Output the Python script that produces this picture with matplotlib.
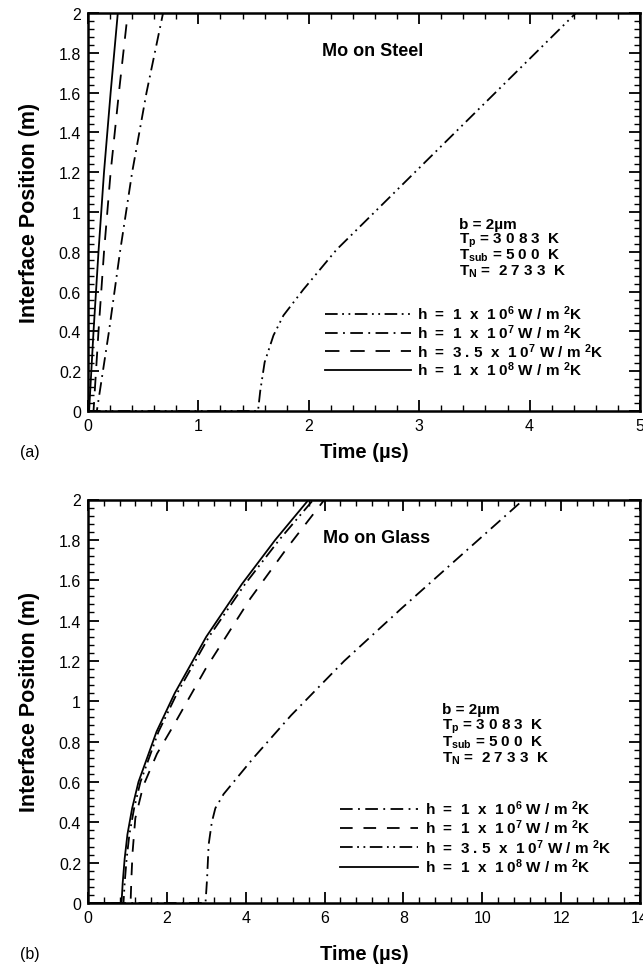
import numpy as np
import matplotlib.pyplot as plt
from matplotlib.ticker import MultipleLocator

plt.rcParams['font.family'] = 'Liberation Sans'
plt.rcParams['mathtext.fontset'] = 'custom'
plt.rcParams['mathtext.rm'] = 'Liberation Sans:bold'
plt.rcParams['mathtext.bf'] = 'Liberation Sans:bold'
plt.rcParams['mathtext.it'] = 'Liberation Sans:bold'
plt.rcParams['mathtext.default'] = 'bf'

# (a) Mo on Steel  -- time (us), interface position (m)
ta_1e6 = [0, 1.54, 1.56, 1.60, 1.68, 1.77, 1.95, 2.25, 2.67, 3.18, 3.80, 4.42]
ya_1e6 = [0, 0, 0.10, 0.245, 0.38, 0.48, 0.61, 0.81, 1.04, 1.32, 1.66, 2.0]
ta_1e7 = [0, 0.08, 0.19, 0.29, 0.40, 0.53, 0.68]
ya_1e7 = [0, 0, 0.4, 0.8, 1.2, 1.6, 2.0]
ta_35e7 = [0, 0.05, 0.095, 0.145, 0.205, 0.28, 0.36]
ya_35e7 = [0, 0, 0.4, 0.8, 1.2, 1.6, 2.0]
ta_1e8 = [0, 0.01, 0.05, 0.095, 0.145, 0.205, 0.27]
ya_1e8 = [0, 0, 0.4, 0.8, 1.2, 1.6, 2.0]

# (b) Mo on Glass
tb_1e6 = [0, 2.98, 3.02, 3.06, 3.14, 3.23, 3.44, 4.2, 5.15, 6.5, 7.95, 9.5, 11.05]
yb_1e6 = [0, 0, 0.12, 0.29, 0.40, 0.47, 0.54, 0.72, 0.93, 1.2, 1.46, 1.73, 2.0]
tb_1e7 = [0, 1.08, 1.10, 1.13, 1.20, 1.40, 1.75, 2.17, 2.98, 4.12, 5.05, 6.0]
yb_1e7 = [0, 0, 0.12, 0.25, 0.42, 0.58, 0.74, 0.88, 1.16, 1.51, 1.76, 2.0]
tb_35e7 = [0, 0.90, 0.93, 0.98, 1.05, 1.17, 1.33, 1.79, 2.26, 3.07, 3.98, 4.85, 5.72]
yb_35e7 = [0, 0, 0.1, 0.22, 0.34, 0.47, 0.6, 0.85, 1.04, 1.32, 1.58, 1.8, 2.0]
tb_1e8 = [0, 0.85, 0.88, 0.93, 1.0, 1.12, 1.28, 1.74, 2.2, 3.0, 3.9, 4.75, 5.6]
yb_1e8 = [0, 0, 0.1, 0.22, 0.34, 0.47, 0.6, 0.85, 1.04, 1.32, 1.58, 1.8, 2.0]

coefs = ['1', '1', '3.5', '1']
exps = [6, 7, 7, 8]
params = ["b = 2\u00b5m", "T$_p$ = 3 0 8 3  K", "T$_{sub}$ = 5 0 0  K", "T$_N$ =  2 7 3 3  K"]

def hlab(c, e):
    return "h  =  " + " ".join(c) + "  x  1 0$^{" + str(e) + "}$ W / m $^2$K"

labels = [hlab(c, e) for c, e in zip(coefs, exps)]

dashdotdot = (0, (7, 2.5, 1, 2.5, 1, 2.5))
dashdot = (0, (7, 3, 1, 3))
lw = 1.3

fig = plt.figure(figsize=(6.43, 9.70), dpi=100)
axa = fig.add_axes([88/643, 1-412/970, 552/643, 398/970])
axb = fig.add_axes([88/643, 1-904/970, 552/643, 403.5/970])

axa.plot(ta_1e6, ya_1e6, color='black', lw=lw, ls=dashdotdot, label=labels[0])
axa.plot(ta_1e7, ya_1e7, color='black', lw=lw, ls=dashdot, label=labels[1])
axa.plot(ta_35e7, ya_35e7, color='black', lw=lw, ls=(0, (8, 6)), label=labels[2])
axa.plot(ta_1e8, ya_1e8, color='black', lw=lw, ls='-', label=labels[3])

axb.plot(tb_1e6, yb_1e6, color='black', lw=lw, ls=dashdot, label=labels[0])
axb.plot(tb_1e7, yb_1e7, color='black', lw=lw, ls=(0, (7, 6)), label=labels[1])
axb.plot(tb_35e7, yb_35e7, color='black', lw=lw, ls=dashdotdot, label=labels[2])
axb.plot(tb_1e8, yb_1e8, color='black', lw=lw, ls='-', label=labels[3])

for ax, xmax, xmaj in [(axa, 5, 1), (axb, 14, 2)]:
    ax.set_xlim(0, xmax)
    ax.set_ylim(0, 2)
    ax.xaxis.set_major_locator(MultipleLocator(xmaj))
    ax.xaxis.set_minor_locator(MultipleLocator(xmaj/5))
    ax.yaxis.set_minor_locator(MultipleLocator(0.04))
    ax.set_yticks(np.arange(0, 2.01, 0.2))
    ax.set_yticklabels(['0', '0.2', '0.4', '0.6', '0.8', '1', '1.2', '1.4', '1.6', '1.8', '2'])
    ax.tick_params(which='both', direction='in', top=True, right=True, labelsize=11.5, pad=5)
    ax.tick_params(which='major', length=8, width=1.3)
    ax.tick_params(which='minor', length=4.5, width=1)
    for s in ax.spines.values():
        s.set_linewidth(1.8)
    ax.set_xlabel("Time (\u00b5s)", fontsize=14.5, fontweight='bold', va='center')
    ax.set_ylabel("Interface Position (m)", fontsize=15.5, fontweight='bold', va='center')

axa.xaxis.set_label_coords(0.5, (412-452)/398)
axb.xaxis.set_label_coords(0.5, (904-955)/403.5)
axa.yaxis.set_label_coords((30-88)/552, 0.5)
axb.yaxis.set_label_coords((30-88)/552, 0.5)

axa.text(2.12, 1.81, "Mo on Steel", fontsize=13, fontweight='bold', va='center')
axb.text(5.96, 1.81, "Mo on Glass", fontsize=13, fontweight='bold', va='center')

for i, s in enumerate(params):
    axa.text(3.36, 0.94 - i*0.078, s, fontsize=11, fontweight='bold', va='center')
    axb.text(8.97, 0.96 - i*0.08, s, fontsize=11, fontweight='bold', va='center')

axa.legend(loc='center left', bbox_to_anchor=(0.43, 0.176), frameon=False,
           prop={'size': 11, 'weight': 'bold'},
           handlelength=5.6, handletextpad=0.4, labelspacing=0.0, borderaxespad=0, borderpad=0)
axb.legend(loc='center left', bbox_to_anchor=(0.456, 0.164), frameon=False,
           prop={'size': 11, 'weight': 'bold'},
           handlelength=5.1, handletextpad=0.45, labelspacing=0.05, borderaxespad=0, borderpad=0)

fig.text(20/643, 1-452/970, "(a)", fontsize=11.5, va='center')
fig.text(20/643, 1-955/970, "(b)", fontsize=11.5, va='center')

fig.savefig("out.png", dpi=100)
